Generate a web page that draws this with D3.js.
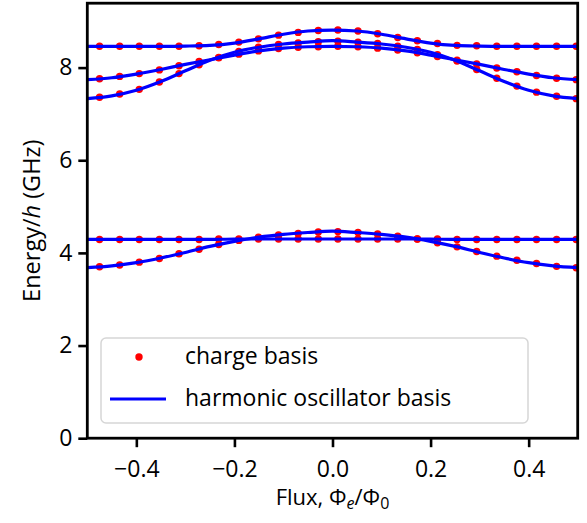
<!DOCTYPE html>
<html lang="en">
  <head>
    <meta charset="UTF-8" />
    <title>Energy levels vs flux</title>
    <script src="https://d3js.org/d3.v7.min.js"></script>
    <style>
      body {
        margin: 0;
        background: #fff;
        font-family: "Open Sans", sans-serif;
      }
      svg {
        display: block;
      }
    </style>
  </head>
  <body>
    <svg id="chart" width="587" height="523"></svg>

    <script>
      // flux points for the charge-basis dots
      const dotFlux = [
        -0.475, -0.434, -0.394, -0.353, -0.313, -0.272, -0.232, -0.191, -0.151,
        -0.11, -0.07, -0.029, 0.011, 0.052, 0.092, 0.133, 0.173, 0.214, 0.254,
        0.294, 0.335, 0.376, 0.416, 0.457, 0.497,
      ];
      // energies (GHz) read at each dot
      const dotLevel1 = [4.29, 4.29, 4.29, 4.29, 4.29, 4.29, 4.3, 4.3, 4.3, 4.3, 4.3, 4.3, 4.3, 4.3, 4.3, 4.3, 4.3, 4.3, 4.29, 4.29, 4.29, 4.29, 4.29, 4.29, 4.29];
      const dotLevel2 = [3.7, 3.74, 3.8, 3.88, 3.98, 4.08, 4.18, 4.27, 4.34, 4.39, 4.42, 4.45, 4.46, 4.44, 4.41, 4.36, 4.3, 4.22, 4.13, 4.03, 3.93, 3.84, 3.77, 3.71, 3.68];
      const dotLevel3 = [7.36, 7.43, 7.53, 7.69, 7.87, 8.06, 8.22, 8.35, 8.44, 8.5, 8.53, 8.56, 8.57, 8.55, 8.52, 8.46, 8.39, 8.28, 8.14, 7.96, 7.77, 7.6, 7.47, 7.38, 7.33];
      const dotLevel4 = [7.76, 7.81, 7.87, 7.95, 8.04, 8.13, 8.21, 8.29, 8.36, 8.41, 8.44, 8.45, 8.46, 8.45, 8.42, 8.38, 8.32, 8.24, 8.16, 8.08, 7.99, 7.91, 7.83, 7.77, 7.74];
      const dotLevel5 = [8.46, 8.46, 8.46, 8.46, 8.46, 8.47, 8.5, 8.55, 8.62, 8.7, 8.76, 8.8, 8.81, 8.79, 8.73, 8.65, 8.58, 8.52, 8.48, 8.47, 8.46, 8.46, 8.46, 8.46, 8.46];

      // harmonic oscillator basis curves
      const lineFlux = [
        -0.5, -0.45, -0.4, -0.35, -0.3, -0.25, -0.2, -0.15, -0.1, -0.05, 0,
        0.05, 0.1, 0.15, 0.2, 0.25, 0.3, 0.35, 0.4, 0.45, 0.5,
      ];
      const lineLevel1 = [4.29, 4.29, 4.29, 4.29, 4.29, 4.29, 4.3, 4.3, 4.3, 4.3, 4.3, 4.3, 4.3, 4.3, 4.3, 4.29, 4.29, 4.29, 4.29, 4.29, 4.29];
      const lineLevel2 = [3.68, 3.72, 3.79, 3.89, 4.01, 4.14, 4.25, 4.34, 4.4, 4.44, 4.47, 4.44, 4.4, 4.34, 4.25, 4.14, 4.01, 3.89, 3.79, 3.72, 3.68];
      const lineLevel3 = [7.33, 7.39, 7.51, 7.7, 7.93, 8.16, 8.33, 8.44, 8.51, 8.55, 8.58, 8.55, 8.51, 8.44, 8.33, 8.16, 7.93, 7.7, 7.51, 7.39, 7.33];
      const lineLevel4 = [7.74, 7.78, 7.86, 7.96, 8.07, 8.17, 8.27, 8.36, 8.42, 8.45, 8.46, 8.45, 8.42, 8.36, 8.27, 8.17, 8.07, 7.96, 7.86, 7.78, 7.74];
      const lineLevel5 = [8.46, 8.46, 8.46, 8.46, 8.465, 8.48, 8.53, 8.62, 8.72, 8.79, 8.81, 8.79, 8.72, 8.62, 8.53, 8.48, 8.465, 8.46, 8.46, 8.46, 8.46];

      const xTicks = [-0.4, -0.2, 0.0, 0.2, 0.4];
      const yTicks = [0, 2, 4, 6, 8];

      const dotSeries = [dotLevel1, dotLevel2, dotLevel3, dotLevel4, dotLevel5];
      const lineSeries = [lineLevel1, lineLevel2, lineLevel3, lineLevel4, lineLevel5];

      const svg = d3.select("#chart");
      const plotLeft = 87.3, plotRight = 577.7, plotTop = 3.2, plotBottom = 438.2;
      const fontSize = 23;

      const x = d3.scaleLinear().domain([-0.5, 0.5]).range([plotLeft, plotRight]);
      const y = d3.scaleLinear().domain([0, 9.39]).range([plotBottom, plotTop]);

      svg
        .append("defs")
        .append("clipPath")
        .attr("id", "plot-clip")
        .append("rect")
        .attr("x", plotLeft)
        .attr("y", plotTop)
        .attr("width", plotRight - plotLeft)
        .attr("height", plotBottom - plotTop);

      const plot = svg.append("g").attr("clip-path", "url(#plot-clip)");

      // red dots first, blue lines drawn over them
      dotSeries.forEach((vals) => {
        plot
          .append("g")
          .selectAll("circle")
          .data(vals)
          .enter()
          .append("circle")
          .attr("cx", (d, i) => x(dotFlux[i]))
          .attr("cy", (d) => y(d))
          .attr("r", 3.7)
          .attr("fill", "#ff0000");
      });

      const line = d3
        .line()
        .x((d, i) => x(lineFlux[i]))
        .y((d) => y(d))
        .curve(d3.curveMonotoneX);

      lineSeries.forEach((vals) => {
        plot
          .append("path")
          .attr("d", line(vals))
          .attr("fill", "none")
          .attr("stroke", "#0000ff")
          .attr("stroke-width", 3.2);
      });

      // axes
      const xAxis = svg
        .append("g")
        .attr("transform", `translate(0, ${plotBottom})`)
        .call(
          d3.axisBottom(x).tickValues(xTicks).tickSize(9).tickPadding(13)
            .tickFormat((d) => d3.format(".1f")(d).replace("-", "\u2212"))
        );
      const yAxis = svg
        .append("g")
        .attr("transform", `translate(${plotLeft}, 0)`)
        .call(d3.axisLeft(y).tickValues(yTicks).tickSize(9).tickPadding(6));

      [xAxis, yAxis].forEach((ax) => {
        ax.select(".domain").remove();
        ax.selectAll("line").attr("stroke", "#000").attr("stroke-width", 2.6);
        ax.selectAll("text")
          .attr("fill", "#000")
          .style("font-family", "'Open Sans', sans-serif")
          .style("font-size", fontSize + "px");
      });

      // frame
      svg
        .append("rect")
        .attr("x", plotLeft)
        .attr("y", plotTop)
        .attr("width", plotRight - plotLeft)
        .attr("height", plotBottom - plotTop)
        .attr("fill", "none")
        .attr("stroke", "#000")
        .attr("stroke-width", 2.8);

      // axis labels
      const xLabel = svg
        .append("text")
        .attr("x", (plotLeft + plotRight) / 2)
        .attr("y", 505)
        .attr("text-anchor", "middle")
        .style("font-size", "22px");
      xLabel.append("tspan").text("Flux, \u03a6");
      xLabel.append("tspan").attr("font-style", "italic").attr("font-size", "16px").attr("dy", 4).text("e");
      xLabel.append("tspan").attr("dy", -4).text("/\u03a6");
      xLabel.append("tspan").attr("font-size", "16px").attr("dy", 4).text("0");

      const yLabel = svg
        .append("text")
        .attr("transform", `translate(40, ${(plotTop + plotBottom) / 2}) rotate(-90)`)
        .attr("text-anchor", "middle")
        .style("font-size", "23.5px");
      yLabel.append("tspan").text("Energy/");
      yLabel.append("tspan").attr("font-style", "italic").text("h");
      yLabel.append("tspan").text(" (GHz)");

      // legend
      const legend = svg.append("g");
      legend
        .append("rect")
        .attr("x", 101)
        .attr("y", 338)
        .attr("width", 427)
        .attr("height", 85)
        .attr("rx", 5)
        .attr("fill", "#fff")
        .attr("fill-opacity", 0.8)
        .attr("stroke", "#d6d6d6")
        .attr("stroke-width", 1.5);
      legend
        .append("circle")
        .attr("cx", 139)
        .attr("cy", 357)
        .attr("r", 3.7)
        .attr("fill", "#ff0000");
      legend
        .append("line")
        .attr("x1", 110)
        .attr("x2", 166)
        .attr("y1", 399)
        .attr("y2", 399)
        .attr("stroke", "#0000ff")
        .attr("stroke-width", 3.2);
      legend
        .append("text")
        .attr("x", 185)
        .attr("y", 364)
        .style("font-size", fontSize + "px")
        .text("charge basis");
      legend
        .append("text")
        .attr("x", 185)
        .attr("y", 406)
        .style("font-size", fontSize + "px")
        .text("harmonic oscillator basis");
    </script>
  </body>
</html>
